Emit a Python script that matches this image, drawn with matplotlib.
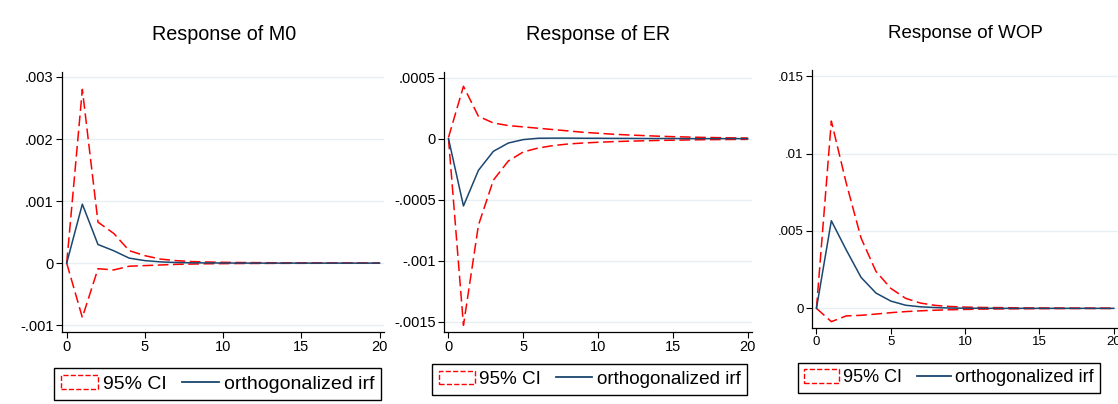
import numpy as np
import matplotlib
matplotlib.use("Agg")
import matplotlib.pyplot as plt
from matplotlib.lines import Line2D
from matplotlib.patches import Patch

plt.rcParams['font.family'] = ['Liberation Sans', 'DejaVu Sans']

steps = np.arange(21)

# Response of M0
m0_irf = [0, 0.95e-3, 0.30e-3, 0.20e-3, 0.08e-3, 0.04e-3, 0.02e-3, 0.01e-3, 0.005e-3, 0.003e-3,
          0.002e-3, 0.001e-3, 0, 0, 0, 0, 0, 0, 0, 0, 0]
m0_hi = [0, 2.80e-3, 0.66e-3, 0.48e-3, 0.20e-3, 0.12e-3, 0.065e-3, 0.04e-3, 0.025e-3, 0.018e-3,
         0.013e-3, 0.01e-3, 0.008e-3, 0.006e-3, 0.005e-3, 0.004e-3, 0.003e-3, 0.002e-3, 0.002e-3, 0.001e-3, 0.001e-3]
m0_lo = [0, -0.876e-3, -0.09e-3, -0.11e-3, -0.05e-3, -0.04e-3, -0.03e-3, -0.02e-3, -0.015e-3, -0.01e-3,
         -0.008e-3, -0.006e-3, -0.005e-3, -0.004e-3, -0.003e-3, -0.003e-3, -0.002e-3, -0.002e-3, -0.001e-3, -0.001e-3, -0.001e-3]

# Response of ER
er_irf = [0, -0.552e-3, -0.26e-3, -0.104e-3, -0.036e-3, -0.008e-3, 0.003e-3, 0.004e-3, 0.004e-3, 0.003e-3,
          0.003e-3, 0.002e-3, 0.002e-3, 0.001e-3, 0.001e-3, 0.001e-3, 0, 0, 0, 0, 0]
er_hi = [0.01e-3, 0.429e-3, 0.183e-3, 0.128e-3, 0.107e-3, 0.096e-3, 0.085e-3, 0.074e-3, 0.063e-3, 0.052e-3,
         0.044e-3, 0.036e-3, 0.030e-3, 0.025e-3, 0.020e-3, 0.016e-3, 0.013e-3, 0.010e-3, 0.008e-3, 0.006e-3, 0.005e-3]
er_lo = [0, -1.53e-3, -0.71e-3, -0.34e-3, -0.183e-3, -0.109e-3, -0.077e-3, -0.057e-3, -0.044e-3, -0.036e-3,
         -0.030e-3, -0.025e-3, -0.021e-3, -0.018e-3, -0.015e-3, -0.013e-3, -0.011e-3, -0.009e-3, -0.008e-3, -0.007e-3, -0.006e-3]

# Response of WOP
wop_irf = [0, 5.66e-3, 3.78e-3, 2.0e-3, 0.99e-3, 0.47e-3, 0.2e-3, 0.1e-3, 0.05e-3, 0.02e-3,
           0.01e-3, 0.005e-3, 0, 0, 0, 0, 0, 0, 0, 0, 0]
wop_hi = [0, 12.1e-3, 8.1e-3, 4.54e-3, 2.39e-3, 1.29e-3, 0.645e-3, 0.34e-3, 0.19e-3, 0.12e-3,
          0.08e-3, 0.06e-3, 0.05e-3, 0.04e-3, 0.03e-3, 0.025e-3, 0.02e-3, 0.015e-3, 0.012e-3, 0.01e-3, 0.01e-3]
wop_lo = [0, -0.86e-3, -0.49e-3, -0.45e-3, -0.37e-3, -0.28e-3, -0.21e-3, -0.16e-3, -0.12e-3, -0.09e-3,
          -0.07e-3, -0.05e-3, -0.04e-3, -0.03e-3, -0.025e-3, -0.02e-3, -0.015e-3, -0.012e-3, -0.01e-3, -0.01e-3, -0.01e-3]

titles = ["Response of M0", "Response of ER", "Response of WOP"]
yticks = [[-0.001, 0, 0.001, 0.002, 0.003],
          [-0.0015, -0.001, -0.0005, 0, 0.0005],
          [0, 0.005, 0.01, 0.015]]
ytick_labels = [["-.001", "0", ".001", ".002", ".003"],
                ["-.0015", "-.001", "-.0005", "0", ".0005"],
                ["0", ".005", ".01", ".015"]]
ylims = [(-1.11e-3, 3.08e-3), (-1.585e-3, 0.546e-3), (-1.27e-3, 15.4e-3)]

W, H = 1118, 404
# pixel boxes: left, right, top, bottom
boxes = [(62, 384, 72, 332), (444, 752, 72, 332), (812, 1118, 70, 328)]
title_x = [224, 598, 965]
title_size = [14.2, 14.2, 13.5]
tick_size = [10.5, 10.5, 9.5]
legend_pos = [(54, 368), (432, 364), (798, 363)]
legend_size = [14, 13.6, 13]

navy = '#1a476f'
grid_c = '#e6eff1'

fig = plt.figure(figsize=(W / 100, H / 100), dpi=100)

data = [(m0_irf, m0_hi, m0_lo), (er_irf, er_hi, er_lo), (wop_irf, wop_hi, wop_lo)]
for i, (irf, hi, lo) in enumerate(data):
    l, r, t, b = boxes[i]
    ax = fig.add_axes([l / W, 1 - b / H, (r - l) / W, (b - t) / H])
    ax.set_facecolor('white')
    for yv in yticks[i]:
        ax.axhline(yv, color=grid_c, lw=1.0, zorder=0)
    ax.plot(steps, hi, color='red', lw=1.1, dashes=(7, 3))
    ax.plot(steps, lo, color='red', lw=1.1, dashes=(7, 3))
    ax.plot(steps, irf, color=navy, lw=1.1)
    ax.set_xlim(-0.3, 20.28)
    ax.set_ylim(*ylims[i])
    ax.set_xticks([0, 5, 10, 15, 20])
    ax.set_yticks(yticks[i])
    ax.set_yticklabels(ytick_labels[i])
    ax.tick_params(labelsize=tick_size[i], length=4, width=0.8, direction='out', pad=2)
    for s in ['top', 'right']:
        ax.spines[s].set_visible(False)
    for s in ['left', 'bottom']:
        ax.spines[s].set_linewidth(0.9)
    fig.text(title_x[i] / W, 1 - 34 / H, titles[i], ha='center', va='center',
             fontsize=title_size[i])

    lx, ly = legend_pos[i]
    handles = [Patch(facecolor='none', edgecolor='red', linestyle='--', linewidth=1.0),
               Line2D([0], [0], color=navy, lw=1.3)]
    fig.legend(handles, ["95% CI", "orthogonalized irf"], ncol=2,
               bbox_to_anchor=(lx / W, 1 - ly / H), loc='upper left',
               frameon=True, fancybox=False, edgecolor='black', framealpha=1,
               fontsize=legend_size[i], handlelength=1.9, handleheight=0.75,
               handletextpad=0.25, columnspacing=0.8,
               borderpad=0.35, borderaxespad=0)

fig.savefig("out.png", dpi=100)
